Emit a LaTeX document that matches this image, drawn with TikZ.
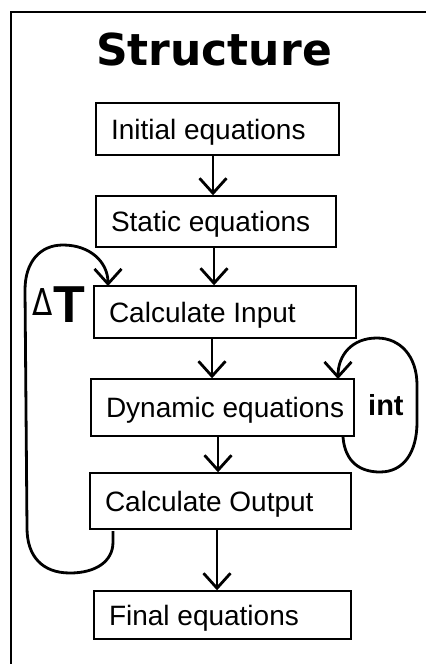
\documentclass[tikz,border=0pt]{standalone}
\usepackage{fontspec}
\usepackage{graphicx}
\setmainfont{Liberation Sans}
\newfontfamily\titlefont{DejaVu Sans}
\usetikzlibrary{arrows.meta}
\begin{document}
\begin{tikzpicture}[x=1pt,y=-1pt,
  stepbox/.style={draw, line width=1.4pt, inner xsep=15pt, inner ysep=0pt,
    text height=20pt, text depth=0pt, font=\fontsize{28}{32}\selectfont},
  flow/.style={line width=2.8pt, -{Straight Barb[length=15pt,width=27pt]}},
  loopline/.style={line width=2.8pt, -{Straight Barb[length=15pt,width=27pt]}},
  frame/.style={line width=1.8pt}]
\useasboundingbox (0,0) rectangle (427,664);

% frame
\coordinate (fb) at (11,664);
\coordinate (fr) at (426,12);
\draw[frame] (fb) |- (fr);

% title
\node[anchor=base, inner sep=0pt, font=\titlefont\bfseries\fontsize{44}{48}\selectfont] (title) at (214,65) {Structure};

% boxes
\node[stepbox, minimum width=243pt, minimum height=52pt] (init) at (217.5,129) {\makebox[213pt][l]{Initial equations}};
\node[stepbox, minimum width=240pt, minimum height=51pt] (static) at (216,221.5) {\makebox[210pt][l]{Static equations}};
\node[stepbox, minimum width=262pt, minimum height=52pt] (cin) at (225,312) {\makebox[232pt][l]{Calculate Input}};
\node[stepbox, minimum width=263pt, minimum height=57pt] (dyn) at (222.5,407.5) {\makebox[233pt][l]{Dynamic equations}};
\node[stepbox, minimum width=261pt, minimum height=56pt] (cout) at (220.5,501) {\makebox[231pt][l]{Calculate Output}};
\node[stepbox, minimum width=257pt, minimum height=48pt] (final) at (222.5,615) {\makebox[227pt][l]{Final equations}};

% arrow columns
\coordinate (c1) at (213,0);
\coordinate (c2) at (214,0);
\coordinate (c3) at (212,0);
\coordinate (c4) at (218,0);
\coordinate (c5) at (217,0);
\draw[flow] (init.south -| c1) -- (static.north -| c1);
\draw[flow] (static.south -| c2) -- (cin.north -| c2);
\draw[flow] (cin.south -| c3) -- (dyn.north -| c3);
\draw[flow] (dyn.south -| c4) -- (cout.north -| c4);
\draw[flow] (cout.south -| c5) -- (final.north -| c5);

% Delta T loop
\coordinate (tstart) at (113,531);
\coordinate (tend) at (108,286);
\draw[loopline] (tstart) -- (113,542) .. controls (113,562) and (95,573) .. (70,573)
  .. controls (42,573) and (27,556) .. (27,528) -- (25,290)
  .. controls (25,262) and (40,245) .. (63,245)
  .. controls (90,245) and (108,262) .. (tend);
\node[anchor=base west, inner sep=0pt] (dt) at (32,322)
  {\raisebox{7pt}{\scalebox{0.8}[1]{\titlefont\fontsize{37}{40}\selectfont Δ}}\kern1pt{\fontsize{52}{56}\selectfont\bfseries T}};

% int loop
\coordinate (istart) at (343,437);
\coordinate (iend) at (338,379);
\draw[loopline] (istart) .. controls (345,462) and (360,472) .. (380,472)
  .. controls (404,472) and (417,452) .. (417,422) -- (417,385)
  .. controls (417,356) and (400,338) .. (377,338)
  .. controls (352,338) and (338,355) .. (iend);
\node[anchor=base west, inner sep=0pt, font=\bfseries\fontsize{29}{30}\selectfont] (int) at (368,415) {int};
\end{tikzpicture}
\end{document}
